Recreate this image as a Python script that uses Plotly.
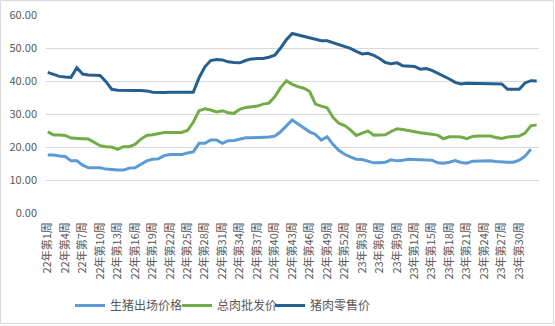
import plotly.graph_objects as go

categories = [f"22年第{i}周" for i in range(1, 53)] + [f"23年第{i}周" for i in range(1, 34)]

hog_price = [17.6, 17.6, 17.3, 17.1, 15.8, 15.8, 14.5, 13.7, 13.7, 13.7,
             13.3, 13.1, 13.0, 13.0, 13.6, 13.7, 14.8, 15.8, 16.3, 16.4,
             17.4, 17.7, 17.7, 17.7, 18.2, 18.5, 21.1, 21.1, 22.1, 22.1,
             21.1, 21.9, 22.0, 22.3, 22.8, 22.8, 22.8, 22.8, 23.0, 23.3,
             24.6, 26.4, 28.2, 27.0, 25.8, 24.6, 23.8, 22.1, 23.1, 20.8,
             19.0, 17.8, 17.0, 16.3, 16.2, 15.6, 15.2, 15.2, 15.4, 16.1,
             15.8, 16.0, 16.3, 16.2, 16.2, 16.1, 16.0, 15.2, 15.1, 15.4,
             15.9, 15.3, 15.1, 15.7, 15.8, 15.8, 15.8, 15.6, 15.4, 15.4,
             15.4, 16.0, 17.2, 19.3, None]

wholesale_price = [24.6, 23.6, 23.6, 23.5, 22.7, 22.5, 22.5, 22.4, 21.4, 20.4,
                   20.1, 20.0, 19.3, 20.1, 20.1, 20.8, 22.4, 23.5, 23.7, 24.0,
                   24.4, 24.4, 24.4, 24.4, 25.0, 27.5, 31.0, 31.6, 31.2, 30.6,
                   31.0, 30.4, 30.2, 31.4, 32.0, 32.3, 32.4, 33.0, 33.3, 35.2,
                   38.0, 40.1, 39.0, 38.3, 37.8, 36.8, 33.0, 32.4, 31.9, 29.0,
                   27.2, 26.5, 25.2, 23.5, 24.1, 24.9, 23.6, 23.6, 23.7, 24.7,
                   25.5, 25.3, 24.9, 24.5, 24.3, 24.1, 23.9, 23.6, 22.5, 23.1,
                   23.1, 23.0, 22.5, 23.2, 23.3, 23.3, 23.3, 22.9, 22.6, 23.0,
                   23.2, 23.3, 24.2, 26.4, 26.7]

retail_price = [42.6, 42.0, 41.4, 41.2, 41.1, 44.0, 42.1, 41.8, 41.7, 41.7,
                39.8, 37.5, 37.2, 37.1, 37.1, 37.1, 37.1, 37.0, 36.6, 36.5,
                36.5, 36.6, 36.6, 36.6, 36.6, 36.6, 41.0, 44.3, 46.2, 46.5,
                46.4, 45.8, 45.6, 45.5, 46.2, 46.7, 46.8, 46.8, 47.2, 47.8,
                50.0, 52.5, 54.4, 54.0, 53.6, 53.0, 52.6, 52.2, 52.2, 51.6,
                51.0, 50.5, 49.9, 49.0, 48.2, 48.4, 47.8, 46.8, 45.6, 45.2,
                45.5, 44.6, 44.4, 44.4, 43.6, 43.8, 43.2, 42.4, 41.4, 40.6,
                39.6, 39.1, 39.3, 39.3, 39.3, 39.3, 39.3, 39.2, 39.1, 37.5,
                37.5, 37.5, 39.4, 40.1, 40.0]

series_names = ["生猪出场价格", "总肉批发价", "猪肉零售价"]
series_colors = ["#5B9BD5", "#70AD47", "#255E91"]
y_ticks = [0, 10, 20, 30, 40, 50, 60]
tick_labels = categories[0:82:3]

FONT = "Noto Sans CJK SC"
x_idx = list(range(len(categories)))
legend_ids = ["legend", "legend2", "legend3"]
legend_left_px = [70, 177, 270]

fig = go.Figure()
for name, vals, col, lg in zip(series_names, [hog_price, wholesale_price, retail_price],
                               series_colors, legend_ids):
    fig.add_trace(go.Scatter(x=x_idx, y=vals, mode="lines", name=name, legend=lg,
                             line=dict(color=col, width=3), connectgaps=False))

legend_style = {}
for lg, px in zip(legend_ids, legend_left_px):
    legend_style[lg] = dict(orientation="h", x=px / 555, xref="container", xanchor="left",
                            y=1 - 305.5 / 326, yref="container", yanchor="middle",
                            font=dict(size=12, color="#595959"), itemwidth=30,
                            bgcolor="rgba(0,0,0,0)")

PL, PT, PW, PH = 46, 15, 493, 198


def px_x(v):
    return (v - PL) / PW


def px_y(v):
    return (PT + PH - v) / PH


fig.update_layout(
    width=555, height=326,
    margin=dict(l=46, r=16, t=15, b=113, autoexpand=False),
    paper_bgcolor="white", plot_bgcolor="white",
    font=dict(family=FONT, color="#595959", size=11),
    showlegend=True,
    **legend_style,
    xaxis=dict(range=[-0.3, 84.4], tickmode="array", automargin=False,
               tickvals=list(range(0, 82, 3)), ticktext=tick_labels,
               tickangle=-90, showgrid=False, zeroline=False, showline=False,
               ticks="", ticklabelstandoff=6, tickfont=dict(size=11, color="#595959")),
    yaxis=dict(range=[0, 60], tickmode="array", tickvals=y_ticks, automargin=False,
               ticktext=[f"{v:.2f}" for v in y_ticks],
               showgrid=True, gridcolor="#D9D9D9", gridwidth=1,
               zeroline=False, showline=False, ticks="", ticklabelstandoff=8,
               tickfont=dict(size=11, color="#595959")),
    shapes=[
        dict(type="rect", xref="paper", yref="paper",
             x0=px_x(0.5), x1=px_x(553.5), y0=px_y(0.5), y1=px_y(323.5),
             line=dict(color="#D9D9D9", width=1), fillcolor="rgba(0,0,0,0)",
             layer="below"),
    ],
)

fig.write_html("out.html")
